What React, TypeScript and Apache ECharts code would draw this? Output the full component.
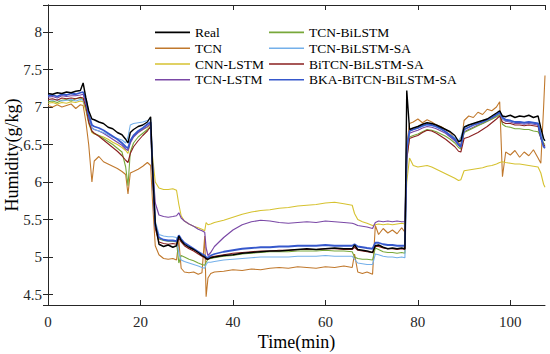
import React, { useEffect, useRef } from "react";
import * as echarts from "echarts";

// Shared time axis (min)
const TIME = [
  0, 1, 2, 3, 4, 5, 6, 7, 7.6, 8.2, 8.8, 9.5, 10, 11, 12, 13, 14, 15, 16, 16.8, 17.3, 17.8, 18.5, 19.5, 20.5, 21.5, 22.2,
  22.6, 23.2, 24, 25, 26, 27, 27.8, 28.3, 28.8, 29.5, 30.5, 31.5, 32.5, 33.3, 33.9, 34.2, 34.6, 35.2,
  36, 38, 40, 42, 44, 46, 48, 50, 52, 54, 56, 58, 60, 62, 64, 65.8, 66.3, 67, 68, 69, 70.2, 70.8, 71.5, 72.5, 73.5, 74.5, 75.5, 76.5, 77.2,
  77.6, 78.2, 79, 80, 81, 82, 83, 84, 85, 86, 87, 88, 88.8, 89.3, 90, 91, 92, 93, 94, 95, 96, 97, 97.7, 98.3, 99, 100, 101, 102, 103, 104, 105, 106, 106.6, 107.2, 107.5,
];

const REAL = [
  7.18, 7.17, 7.19, 7.18, 7.20, 7.19, 7.21, 7.22, 7.32, 7.12, 6.95, 6.84, 6.83, 6.80, 6.78, 6.73, 6.71, 6.66, 6.63, 6.57, 6.52, 6.66, 6.70, 6.74, 6.76, 6.80, 6.87,
  6.20, 5.45, 5.17, 5.14, 5.16, 5.13, 5.15, 5.28, 5.22, 5.17, 5.13, 5.10, 5.06, 5.02, 5.00, 4.98, 4.97, 4.99,
  5.00, 5.02, 5.03, 5.05, 5.06, 5.07, 5.08, 5.08, 5.09, 5.10, 5.11, 5.10, 5.11, 5.12, 5.11, 5.11, 5.16, 5.10, 5.09, 5.08, 5.06, 5.15, 5.16, 5.13, 5.11, 5.12, 5.11, 5.12, 5.11,
  7.22, 6.70, 6.72, 6.74, 6.77, 6.79, 6.78, 6.76, 6.73, 6.70, 6.67, 6.62, 6.54, 6.55, 6.73, 6.76, 6.78, 6.80, 6.82, 6.84, 6.88, 6.92, 6.95, 6.88, 6.87, 6.89, 6.86, 6.88, 6.87, 6.89, 6.86, 6.88, 6.72, 6.58, 6.55,
];

const TCN = [
  7.02, 7.00, 7.03, 7.00, 7.02, 7.04, 6.98, 7.03, 7.02, 6.80, 6.50, 6.00, 6.28, 6.34, 6.27, 6.24, 6.21, 6.18, 6.14, 6.10, 5.84, 6.12, 6.14, 6.17, 6.21, 6.26, 6.22,
  5.75, 5.15, 5.03, 4.98, 4.97, 4.98, 4.96, 5.22, 4.85, 4.80, 4.79, 4.80, 4.77, 4.79, 5.28, 4.47, 4.72, 4.78,
  4.80, 4.81, 4.83, 4.82, 4.84, 4.83, 4.85, 4.86, 4.85, 4.87, 4.86, 4.85, 4.87, 4.86, 4.88, 4.86, 5.04, 4.80, 4.78, 4.80, 4.77, 5.42, 5.30, 5.38, 5.32, 5.36, 5.31, 5.39, 5.33,
  6.50, 6.78, 6.80, 6.84, 6.79, 6.83, 6.80, 6.76, 6.74, 6.70, 6.66, 6.58, 6.53, 6.48, 6.82, 6.88, 6.86, 6.93, 6.90, 6.97, 6.95, 7.00, 7.07, 6.07, 6.40, 6.36, 6.42, 6.33, 6.40, 6.35, 6.43, 6.32, 6.25, 7.00, 7.42,
];

const CNN_LSTM = [
  7.05, 7.06, 7.04, 7.06, 7.05, 7.07, 7.06, 7.08, 7.07, 6.95, 6.78, 6.66, 6.64, 6.62, 6.60, 6.57, 6.53, 6.50, 6.46, 6.42, 6.38, 6.55, 6.62, 6.66, 6.70, 6.73, 6.76,
  6.35, 6.00, 5.92, 5.90, 5.90, 5.91, 5.89, 5.70, 5.55, 5.48, 5.44, 5.41, 5.39, 5.37, 5.35, 5.46, 5.43, 5.44,
  5.46, 5.49, 5.53, 5.57, 5.60, 5.62, 5.63, 5.65, 5.66, 5.68, 5.69, 5.70, 5.72, 5.73, 5.71, 5.69, 5.58, 5.50, 5.47, 5.45, 5.42, 5.43, 5.44, 5.43, 5.44, 5.43, 5.44, 5.45, 5.44,
  6.00, 6.32, 6.22, 6.20, 6.21, 6.22, 6.20, 6.17, 6.14, 6.11, 6.08, 6.05, 6.02, 6.03, 6.15, 6.16, 6.17, 6.18, 6.19, 6.21, 6.22, 6.24, 6.26, 6.27, 6.26, 6.25, 6.24, 6.24, 6.23, 6.22, 6.21, 6.20, 6.12, 5.97, 5.93,
];

const TCN_LSTM = [
  7.13, 7.14, 7.12, 7.15, 7.14, 7.15, 7.15, 7.16, 7.17, 7.05, 6.85, 6.72, 6.70, 6.68, 6.65, 6.61, 6.57, 6.53, 6.49, 6.44, 6.42, 6.52, 6.60, 6.66, 6.70, 6.74, 6.78,
  6.25, 5.72, 5.56, 5.54, 5.53, 5.54, 5.55, 5.59, 5.52, 5.48, 5.44, 5.41, 5.37, 5.35, 5.33, 5.12, 5.02, 5.06,
  5.14, 5.26, 5.36, 5.43, 5.47, 5.49, 5.48, 5.46, 5.45, 5.46, 5.47, 5.46, 5.48, 5.47, 5.46, 5.45, 5.44, 5.42, 5.41, 5.40, 5.38, 5.46, 5.48, 5.47, 5.48, 5.47, 5.48, 5.47, 5.47,
  6.40, 6.65, 6.67, 6.69, 6.72, 6.74, 6.73, 6.71, 6.68, 6.65, 6.60, 6.55, 6.49, 6.46, 6.67, 6.70, 6.73, 6.76, 6.78, 6.81, 6.84, 6.88, 6.91, 6.84, 6.81, 6.80, 6.78, 6.78, 6.77, 6.78, 6.77, 6.76, 6.60, 6.50, 6.47,
];

const TCN_BILSTM = [
  7.07, 7.08, 7.06, 7.09, 7.10, 7.08, 7.11, 7.12, 7.10, 6.98, 6.80, 6.67, 6.65, 6.62, 6.58, 6.54, 6.50, 6.45, 6.40, 6.20, 5.95, 6.40, 6.52, 6.60, 6.65, 6.70, 6.74,
  6.15, 5.42, 5.24, 5.22, 5.21, 5.21, 5.20, 4.92, 5.02, 5.00, 4.97, 4.95, 4.92, 4.90, 4.89, 4.93, 4.97, 4.98,
  4.99, 5.01, 5.02, 5.04, 5.05, 5.06, 5.07, 5.07, 5.07, 5.08, 5.08, 5.08, 5.09, 5.08, 5.08, 5.07, 5.00, 4.98, 4.97, 4.97, 4.96, 5.12, 5.10, 5.07, 5.06, 5.06, 5.05, 5.06, 5.05,
  6.30, 6.60, 6.62, 6.64, 6.67, 6.70, 6.69, 6.67, 6.64, 6.61, 6.57, 6.52, 6.46, 6.44, 6.66, 6.69, 6.72, 6.75, 6.78, 6.81, 6.84, 6.87, 6.90, 6.77, 6.74, 6.73, 6.71, 6.71, 6.70, 6.70, 6.68, 6.67, 6.60, 6.52, 6.50,
];

const TCN_BILSTM_SA = [
  7.10, 7.09, 7.10, 7.08, 7.09, 7.10, 7.08, 7.10, 7.09, 7.00, 6.82, 6.72, 6.70, 6.68, 6.66, 6.63, 6.60, 6.58, 6.56, 6.52, 6.60, 6.76, 6.78, 6.79, 6.80, 6.82, 6.84,
  6.25, 5.48, 5.30, 5.28, 5.27, 5.27, 5.26, 5.05, 4.96, 4.94, 4.92, 4.90, 4.88, 4.86, 4.85, 4.90, 4.93, 4.93,
  4.94, 4.96, 4.97, 4.98, 4.99, 5.00, 5.00, 5.00, 5.00, 5.01, 5.01, 5.01, 5.02, 5.01, 5.01, 5.01, 4.97, 4.92, 4.91, 4.90, 4.90, 5.04, 5.03, 5.01, 5.00, 5.00, 4.99, 5.00, 4.99,
  6.40, 6.68, 6.70, 6.72, 6.74, 6.76, 6.75, 6.73, 6.70, 6.67, 6.63, 6.59, 6.55, 6.60, 6.74, 6.76, 6.78, 6.80, 6.82, 6.84, 6.86, 6.89, 6.92, 6.84, 6.82, 6.81, 6.80, 6.80, 6.79, 6.80, 6.79, 6.78, 6.65, 6.56, 6.55,
];

const BITCN_BILSTM_SA = [
  7.10, 7.11, 7.09, 7.12, 7.11, 7.12, 7.11, 7.13, 7.12, 7.00, 6.80, 6.68, 6.65, 6.61, 6.56, 6.51, 6.46, 6.41, 6.35, 6.29, 6.26, 6.38, 6.47, 6.55, 6.62, 6.68, 6.74,
  6.10, 5.38, 5.20, 5.18, 5.17, 5.18, 5.17, 5.25, 5.20, 5.15, 5.11, 5.08, 5.04, 5.01, 4.99, 4.97, 4.97, 5.00,
  5.01, 5.03, 5.05, 5.06, 5.07, 5.08, 5.08, 5.09, 5.09, 5.10, 5.10, 5.10, 5.11, 5.11, 5.10, 5.10, 5.13, 5.09, 5.08, 5.07, 5.06, 5.14, 5.14, 5.12, 5.11, 5.11, 5.10, 5.11, 5.10,
  6.30, 6.58, 6.60, 6.62, 6.66, 6.69, 6.68, 6.65, 6.61, 6.57, 6.52, 6.47, 6.41, 6.40, 6.58, 6.60, 6.63, 6.66, 6.70, 6.74, 6.79, 6.84, 6.88, 6.80, 6.78, 6.78, 6.76, 6.76, 6.75, 6.76, 6.75, 6.74, 6.58, 6.50, 6.48,
];

const BKA = [
  7.15, 7.16, 7.14, 7.17, 7.16, 7.18, 7.17, 7.19, 7.20, 7.10, 6.90, 6.76, 6.74, 6.72, 6.69, 6.65, 6.61, 6.57, 6.52, 6.47, 6.45, 6.55, 6.62, 6.68, 6.72, 6.77, 6.80,
  6.20, 5.42, 5.26, 5.23, 5.22, 5.22, 5.21, 5.29, 5.24, 5.19, 5.15, 5.11, 5.07, 5.04, 5.02, 5.00, 4.99, 5.02,
  5.04, 5.07, 5.09, 5.11, 5.12, 5.13, 5.13, 5.14, 5.14, 5.15, 5.15, 5.15, 5.16, 5.15, 5.15, 5.15, 5.17, 5.14, 5.13, 5.12, 5.11, 5.19, 5.19, 5.17, 5.16, 5.16, 5.15, 5.15, 5.15,
  6.45, 6.68, 6.70, 6.72, 6.75, 6.77, 6.76, 6.74, 6.71, 6.67, 6.62, 6.57, 6.50, 6.47, 6.70, 6.73, 6.76, 6.78, 6.80, 6.83, 6.86, 6.90, 6.93, 6.86, 6.83, 6.82, 6.80, 6.80, 6.79, 6.80, 6.79, 6.78, 6.60, 6.47, 6.45,
];

const SERIES_NAMES = [
  "Real", "TCN", "CNN-LSTM", "TCN-LSTM",
  "TCN-BiLSTM", "TCN-BiLSTM-SA", "BiTCN-BiLSTM-SA", "BKA-BiTCN-BiLSTM-SA",
];
const SERIES_VALUES = [REAL, TCN, CNN_LSTM, TCN_LSTM, TCN_BILSTM, TCN_BILSTM_SA, BITCN_BILSTM_SA, BKA];
const SERIES_COLORS = ["#000000", "#c0782c", "#d6c230", "#7a48a6", "#78a83a", "#74b0ea", "#8a1f1f", "#3658cc"];
const SERIES_WIDTHS = [1.4, 1.1, 1.1, 1.2, 1.1, 1.1, 1.1, 1.8];
const SERIES_Z = [4, 2, 2, 2, 2, 2, 2, 3];

const FONT = "'Liberation Serif', 'Times New Roman', serif";
const AXIS_COLOR = "#262626";

export default function App() {
  const ref = useRef<HTMLDivElement>(null);

  useEffect(() => {
    if (!ref.current) return;
    const chart = echarts.init(ref.current, undefined, { renderer: "svg" });

    const series = SERIES_NAMES.map((name, i) => ({
      name,
      type: "line",
      symbol: "none",
      z: SERIES_Z[i],
      data: TIME.map((t, k) => [t, SERIES_VALUES[i][k]]),
      lineStyle: { color: SERIES_COLORS[i], width: SERIES_WIDTHS[i] },
      itemStyle: { color: SERIES_COLORS[i] },
    }));

    const xCommon = {
      type: "value",
      min: 0,
      max: 107.5,
      interval: 20,
      splitLine: { show: false },
      axisLine: { show: true, lineStyle: { color: AXIS_COLOR, width: 1 } },
      axisTick: { show: true, inside: true, length: 5, lineStyle: { color: AXIS_COLOR } },
    };
    const yCommon = {
      type: "value",
      min: 4.36,
      max: 8.36,
      splitNumber: 8,
      minInterval: 0.5,
      maxInterval: 0.5,
      splitLine: { show: false },
      axisLine: { show: true, lineStyle: { color: AXIS_COLOR, width: 1 } },
      axisTick: { show: true, inside: true, length: 5, lineStyle: { color: AXIS_COLOR } },
    };

    const legendCommon = {
      orient: "vertical",
      icon: "rect",
      itemWidth: 35,
      itemHeight: 1.6,
      itemGap: 0,
      selectedMode: false,
      textStyle: { fontFamily: FONT, fontSize: 13.5, color: "#000", lineHeight: 15.8 },
    };

    chart.setOption({
      animation: false,
      backgroundColor: "#ffffff",
      grid: { left: 48, right: 5, top: 5, bottom: 49, containLabel: false, outerBoundsMode: "none" },
      legend: [
        { ...legendCommon, left: 150, top: 19.5, data: SERIES_NAMES.slice(0, 4) },
        { ...legendCommon, left: 264, top: 19.5, data: SERIES_NAMES.slice(4) },
      ],
      xAxis: [
        {
          ...xCommon,
          position: "bottom",
          name: "Time(min)",
          nameLocation: "middle",
          nameGap: 28,
          nameMoveOverlap: false,
          nameTextStyle: { fontFamily: FONT, fontSize: 18, color: "#000" },
          axisLabel: {
            fontFamily: FONT, fontSize: 15, color: AXIS_COLOR, margin: 9,
            showMaxLabel: false,
          },
        },
        { ...xCommon, position: "top", axisLabel: { show: false } },
      ],
      yAxis: [
        {
          ...yCommon,
          position: "left",
          name: "Humidity(g/kg)",
          nameLocation: "middle",
          nameGap: 27,
          nameMoveOverlap: false,
          nameTextStyle: { fontFamily: FONT, fontSize: 18, color: "#000" },
          axisLabel: {
            fontFamily: FONT, fontSize: 15, color: AXIS_COLOR, margin: 6,
            showMinLabel: false, showMaxLabel: false,
          },
        },
        { ...yCommon, position: "right", axisLabel: { show: false } },
      ],
      series,
    });

    return () => chart.dispose();
  }, []);

  return (
    <div
      ref={ref}
      style={{ position: "absolute", left: 0, top: 0, width: 550, height: 354, background: "#fff" }}
    />
  );
}
